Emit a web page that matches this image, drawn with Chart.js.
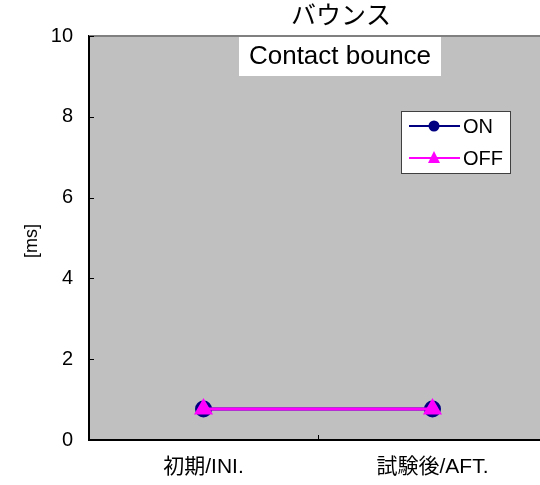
<!DOCTYPE html>
<html>
<head>
<meta charset="utf-8">
<script src="https://cdn.jsdelivr.net/npm/chart.js@4"></script>
<style>
  html, body { margin: 0; padding: 0; background: #fff; overflow: hidden; }
  #wrap { width: 540px; height: 485px; overflow: hidden; position: relative; }
  #inner { width: 550px; height: 485px; position: absolute; left: 0; top: 0; }
</style>
</head>
<body>
<div id="wrap"><div id="inner"><canvas id="chart" width="550" height="485"></canvas></div></div>
<script>
// Chart data
const categories = ['初期/INI.', '試験後/AFT.'];
const onValues = [0.77, 0.77];
const offValues = [0.77, 0.77];
const yTicks = [0, 2, 4, 6, 8, 10];

const FONT = '"Liberation Sans", "Noto Sans CJK JP", sans-serif';

// plot frame, inward tick marks, titles, legend
const decor = {
    id: 'decor',
    beforeDatasetsDraw(chart) {
        const { ctx, chartArea: a, scales } = chart;
        ctx.save();
        // top border of plot
        ctx.strokeStyle = '#808080';
        ctx.lineWidth = 2;
        ctx.beginPath();
        ctx.moveTo(a.left, a.top);
        ctx.lineTo(a.right, a.top);
        ctx.stroke();
        // inward ticks
        ctx.strokeStyle = '#000';
        ctx.lineWidth = 1;
        yTicks.forEach(v => {
            const y = Math.round(scales.y.getPixelForValue(v)) + 0.5;
            ctx.beginPath();
            ctx.moveTo(a.left, y);
            ctx.lineTo(a.left + 5, y);
            ctx.stroke();
        });
        for (let i = 1; i < categories.length; i++) {
            const x = Math.round((scales.x.getPixelForValue(i - 1) + scales.x.getPixelForValue(i)) / 2) + 0.5;
            ctx.beginPath();
            ctx.moveTo(x, a.bottom);
            ctx.lineTo(x, a.bottom - 5);
            ctx.stroke();
        }
        ctx.restore();
    },
    afterDraw(chart) {
        const { ctx } = chart;
        ctx.save();
        // title
        ctx.fillStyle = '#000';
        ctx.textAlign = 'center';
        ctx.textBaseline = 'middle';
        ctx.font = '25px ' + FONT;
        ctx.fillText('バウンス', 341, 17);
        ctx.fillStyle = '#fff';
        ctx.fillRect(239, 37, 202, 39);
        ctx.fillStyle = '#000';
        ctx.font = '26px ' + FONT;
        ctx.fillText('Contact bounce', 340, 57);
        // y axis title
        ctx.save();
        ctx.translate(32, 241);
        ctx.rotate(-Math.PI / 2);
        ctx.font = '18px ' + FONT;
        ctx.fillText('[ms]', 0, 0);
        ctx.restore();
        // legend
        ctx.fillStyle = '#fff';
        ctx.fillRect(401, 111, 110, 63);
        ctx.strokeStyle = '#404040';
        ctx.lineWidth = 1;
        ctx.strokeRect(401.5, 111.5, 109, 62);
        chart.data.datasets.forEach((ds, i) => {
            const y = 126 + i * 32;
            ctx.strokeStyle = ds.borderColor;
            ctx.lineWidth = 2;
            ctx.beginPath();
            ctx.moveTo(409, y);
            ctx.lineTo(460, y);
            ctx.stroke();
            ctx.fillStyle = ds.pointBackgroundColor;
            if (ds.pointStyle === 'triangle') {
                ctx.beginPath();
                ctx.moveTo(434, y - 7);
                ctx.lineTo(440, y + 5);
                ctx.lineTo(428, y + 5);
                ctx.closePath();
                ctx.fill();
            } else {
                ctx.beginPath();
                ctx.arc(434, y, 5.5, 0, Math.PI * 2);
                ctx.fill();
            }
            ctx.fillStyle = '#000';
            ctx.textAlign = 'left';
            ctx.font = '20px ' + FONT;
            ctx.fillText(ds.label, 463, y + 1);
        });
        ctx.restore();
    }
};

new Chart(document.getElementById('chart'), {
    type: 'line',
    data: {
        labels: categories,
        datasets: [{
            label: 'ON',
            data: onValues,
            borderColor: '#000080',
            backgroundColor: '#000080',
            pointBackgroundColor: '#000080',
            pointBorderColor: '#000080',
            pointStyle: 'circle',
            pointRadius: 7,
            borderWidth: 3,
            order: 1
        }, {
            label: 'OFF',
            data: offValues,
            borderColor: '#FF00FF',
            backgroundColor: '#FF00FF',
            pointBackgroundColor: '#FF00FF',
            pointBorderColor: '#FF00FF',
            pointStyle: 'triangle',
            pointRadius: 8,
            borderWidth: 3,
            order: 0
        }]
    },
    options: {
        responsive: false,
        animation: false,
        devicePixelRatio: 1,
        // canvas is 550 wide so the plot runs past the 540 px window like the reference
        layout: { autoPadding: false, padding: { top: 36, right: 3, left: 0, bottom: 0 } },
        plugins: {
            legend: { display: false },
            tooltip: { enabled: false }
        },
        scales: {
            x: {
                offset: true,
                afterFit: s => { s.height = 45; s.paddingLeft = 0; s.paddingRight = 0; },
                grid: { display: false, drawTicks: false },
                border: { color: '#000', width: 2 },
                ticks: { color: '#000', font: { family: FONT, size: 21 }, padding: 15 }
            },
            y: {
                min: 0,
                max: 10,
                afterFit: s => { s.width = 89; },
                afterBuildTicks: s => { s.ticks = yTicks.map(v => ({ value: v })); },
                grid: { display: false, drawTicks: false },
                border: { color: '#000', width: 2 },
                ticks: { color: '#000', font: { family: FONT, size: 20 }, padding: 16 }
            }
        }
    },
    plugins: [{
        id: 'plotBg',
        beforeDraw(chart) {
            const { ctx, chartArea: a } = chart;
            ctx.save();
            ctx.fillStyle = '#C0C0C0';
            ctx.fillRect(a.left, a.top, a.right - a.left, a.bottom - a.top);
            ctx.restore();
        }
    }, decor]
});
</script>
</body>
</html>
